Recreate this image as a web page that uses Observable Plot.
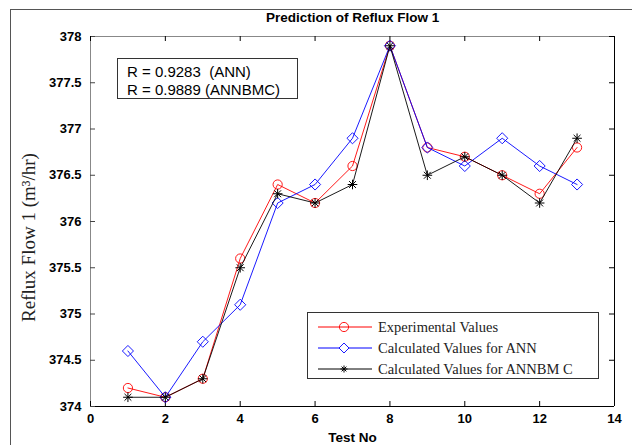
<!DOCTYPE html>
<html>
<head>
<meta charset="utf-8">
<script src="https://cdn.jsdelivr.net/npm/d3@7"></script>
<script src="https://cdn.jsdelivr.net/npm/@observablehq/plot@0.6"></script>
<style>
  html, body { margin: 0; padding: 0; background: #fff; }
  #wrap { position: relative; width: 632px; height: 445px; overflow: hidden; }
  #frame { position: absolute; left: 10px; top: 9px; right: -5px; bottom: -5px;
           border-top: 1px solid #555; border-left: 1px solid #555; pointer-events: none; }
  .rbox { position: absolute; left: 117px; top: 58px; width: 179px; height: 39px;
          border: 1px solid #333; background: #fff;
          font-family: "Liberation Sans", Arial, sans-serif; font-size: 15px; color: #000; }
  .rbox div { position: absolute; left: 9px; line-height: 18px; white-space: pre; }
  .legend { position: absolute; left: 307px; top: 312px; width: 290px; height: 65px;
            border: 1px solid #333; background: #fff;
            font-family: "Liberation Serif", "Times New Roman", serif; font-size: 14.5px; color: #222; }
  .legend .row { position: absolute; left: 0; height: 20px; width: 290px; }
  .legend svg { position: absolute; left: 9px; top: 3px; }
  .legend span { position: absolute; left: 70px; top: 1px; line-height: 18px; white-space: pre; }
</style>
</head>
<body>
<div id="wrap"></div>
<script>
// ---- data ----
const testNo = [1, 2, 3, 4, 5, 6, 7, 8, 9, 10, 11, 12, 13];
const experimental = [374.2, 374.1, 374.3, 375.6, 376.4, 376.2, 376.6, 377.9, 376.8, 376.7, 376.5, 376.3, 376.8];
const annValues    = [374.6, 374.1, 374.7, 375.1, 376.2, 376.4, 376.9, 377.9, 376.8, 376.6, 376.9, 376.6, 376.4];
const annbmcValues = [374.1, 374.1, 374.3, 375.5, 376.3, 376.2, 376.4, 377.9, 376.5, 376.7, 376.5, 376.2, 376.9];
const xTicks = [0, 2, 4, 6, 8, 10, 12, 14];
const yTicks = [374, 374.5, 375, 375.5, 376, 376.5, 377, 377.5, 378];
const seriesNames = ["Experimental Values", "Calculated Values for ANN", "Calculated Values for ANNBM C"];
const rLines = ["R = 0.9283  (ANN)", "R = 0.9889 (ANNBMC)"];
const titleText = "Prediction of Reflux Flow 1";
const xLabel = "Test No";
const yLabel = "Reflux Flow 1 (m³/hr)";

const expData = testNo.map((t, i) => ({t, v: experimental[i]}));
const annData = testNo.map((t, i) => ({t, v: annValues[i]}));
const bmcData = testNo.map((t, i) => ({t, v: annbmcValues[i]}));

const W = 632, H = 445;
const mL = 90, mR = 18, mT = 36, mB = 39;
const fw = W - mL - mR, fh = H - mT - mB;
const tl = 5;

const chart = Plot.plot({
  width: W, height: H,
  marginLeft: mL, marginRight: mR, marginTop: mT, marginBottom: mB,
  style: { fontFamily: "Liberation Sans, Arial, sans-serif", background: "transparent", color: "#000", overflow: "visible" },
  x: { domain: [0, 14] },
  y: { domain: [374, 378] },
  marks: [
    // frame
    Plot.ruleX([0], { stroke: "#888", strokeWidth: 1 }),
    Plot.ruleY([378], { stroke: "#888", strokeWidth: 1 }),
    Plot.ruleX([14], { stroke: "#000", strokeWidth: 1 }),
    Plot.ruleY([374], { stroke: "#000", strokeWidth: 1 }),
    // inward ticks
    Plot.tickY(yTicks, { y: d => d, insetRight: fw - tl, stroke: "#444" }),
    Plot.tickY(yTicks, { y: d => d, insetLeft: fw - tl, stroke: "#000" }),
    Plot.tickX(xTicks, { x: d => d, insetTop: fh - tl, stroke: "#000" }),
    Plot.tickX(xTicks, { x: d => d, insetBottom: fh - tl, stroke: "#000" }),
    // tick labels
    Plot.axisX(xTicks, { tickSize: 0, tickPadding: 7, fontWeight: "bold", fontSize: 13, label: null, tickFormat: d => `${d}` }),
    Plot.axisY(yTicks, { tickSize: 0, tickPadding: 9, fontWeight: "bold", fontSize: 13, label: null, tickFormat: d => `${d}` }),
    // series
    Plot.line(expData, { x: "t", y: "v", stroke: "#ff0000", strokeWidth: 0.9 }),
    Plot.dot(expData, { x: "t", y: "v", symbol: "circle", r: 4.6, stroke: "#ff0000", fill: "none", strokeWidth: 0.9 }),
    Plot.line(annData, { x: "t", y: "v", stroke: "#0000ff", strokeWidth: 0.9 }),
    Plot.dot(annData, { x: "t", y: "v", symbol: "diamond2", r: 5, stroke: "#0000ff", fill: "none", strokeWidth: 0.9 }),
    Plot.line(bmcData, { x: "t", y: "v", stroke: "#000", strokeWidth: 0.9 }),
    Plot.dot(bmcData, { x: "t", y: "v", symbol: "plus", r: 3.2, stroke: "#000", strokeWidth: 1 }),
    Plot.dot(bmcData, { x: "t", y: "v", symbol: "times", r: 3.2, stroke: "#000", strokeWidth: 1 }),
    // texts
    Plot.text([titleText], { frameAnchor: "top", dy: -19, lineAnchor: "middle", fontWeight: "bold", fontSize: 13.5 }),
    Plot.text([xLabel], { frameAnchor: "bottom", dy: 31, lineAnchor: "middle", fontWeight: "bold", fontSize: 13.5 }),
    Plot.text([yLabel], { frameAnchor: "left", rotate: -90, dx: -62, dy: 16, textAnchor: "middle", lineAnchor: "middle",
      fontFamily: "Liberation Serif, Times New Roman, serif", fontSize: 19, fill: "#222" })
  ]
});

const wrap = document.getElementById("wrap");
chart.style.position = "absolute";
chart.style.left = "0px";
chart.style.top = "0px";
wrap.appendChild(chart);

const frame = document.createElement("div");
frame.id = "frame";
wrap.appendChild(frame);

// R box
const rbox = document.createElement("div");
rbox.className = "rbox";
rLines.forEach((s, i) => {
  const d = document.createElement("div");
  d.textContent = s;
  d.style.top = (4 + i * 18) + "px";
  rbox.appendChild(d);
});
wrap.appendChild(rbox);

// legend
const colors = ["#ff0000", "#0000ff", "#000000"];
const legend = document.createElement("div");
legend.className = "legend";
seriesNames.forEach((name, i) => {
  const row = document.createElement("div");
  row.className = "row";
  row.style.top = (4 + i * 21) + "px";
  const c = colors[i];
  let marker;
  if (i === 0) marker = `<circle cx="27" cy="7" r="4.6" fill="none" stroke="${c}" stroke-width="0.9"/>`;
  else if (i === 1) marker = `<path d="M27,2 L32,7 L27,12 L22,7 Z" fill="#fff" stroke="${c}" stroke-width="0.9"/>`;
  else marker = `<path d="M27,3.5 V10.5 M23.5,7 H30.5 M24.6,4.6 L29.4,9.4 M29.4,4.6 L24.6,9.4" stroke="${c}" stroke-width="1"/>`;
  row.innerHTML = `<svg width="56" height="14"><line x1="1" y1="7" x2="55" y2="7" stroke="${c}" stroke-width="1"/>${marker}</svg><span>${name}</span>`;
  legend.appendChild(row);
});
wrap.appendChild(legend);
</script>
</body>
</html>
